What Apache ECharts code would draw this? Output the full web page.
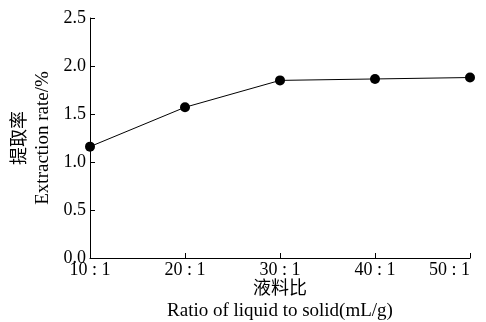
<!DOCTYPE html>
<html>
<head>
<meta charset="utf-8">
<script src="https://cdn.jsdelivr.net/npm/echarts@6/dist/echarts.min.js"></script>
<style>
  html, body { margin: 0; padding: 0; background: #fff; }
  #chart { width: 486px; height: 322px; }
</style>
</head>
<body>
<div id="chart"></div>
<script>
const ratios = ['10 : 1', '20 : 1', '30 : 1', '40 : 1', '50 : 1']
const extractionRate = [1.16, 1.57, 1.85, 1.865, 1.88]

const serif = '"Liberation Serif", "Times New Roman", serif'
const cjk = '"Noto Sans CJK SC", sans-serif'

const chart = echarts.init(document.getElementById('chart'))

chart.setOption({
  animation: false,
  grid: { left: 90, right: 16, top: 18, bottom: 64, outerBoundsMode: 'none', containLabel: false },
  xAxis: {
    type: 'category',
    data: ratios,
    boundaryGap: false,
    axisLine: { lineStyle: { color: '#000', width: 1 } },
    axisTick: { inside: true, length: 5, lineStyle: { color: '#000' } },
    axisLabel: { color: '#000', fontFamily: serif, fontSize: 18, margin: 3, alignMaxLabel: 'right' },
    name: '{cn|液料比}\n{en|Ratio of liquid to solid(mL/g)}',
    nameLocation: 'middle',
    nameGap: 17,
    nameMoveOverlap: false,
    nameTextStyle: {
      rich: {
        cn: { fontFamily: cjk, fontSize: 18, color: '#000', lineHeight: 24 },
        en: { fontFamily: serif, fontSize: 19, color: '#000', lineHeight: 24 }
      }
    }
  },
  yAxis: {
    type: 'value',
    min: 0,
    max: 2.5,
    interval: 0.5,
    splitLine: { show: false },
    axisLine: { show: true, lineStyle: { color: '#000', width: 1 } },
    axisTick: { show: true, inside: true, length: 5, lineStyle: { color: '#000' } },
    axisLabel: {
      color: '#000', fontFamily: serif, fontSize: 18, margin: 4,
      formatter: v => v.toFixed(1)
    },
    name: '{cn|提取率}\n{en|Extraction rate/%}',
    nameLocation: 'middle',
    nameRotate: 90,
    nameGap: 34,
    nameMoveOverlap: false,
    nameTextStyle: {
      rich: {
        cn: { fontFamily: cjk, fontSize: 18, color: '#000', lineHeight: 25 },
        en: { fontFamily: serif, fontSize: 19, color: '#000', lineHeight: 25 }
      }
    }
  },
  series: [{
    type: 'line',
    data: extractionRate,
    symbol: 'circle',
    symbolSize: 10,
    itemStyle: { color: '#000' },
    lineStyle: { color: '#000', width: 1 }
  }]
})
</script>
</body>
</html>
